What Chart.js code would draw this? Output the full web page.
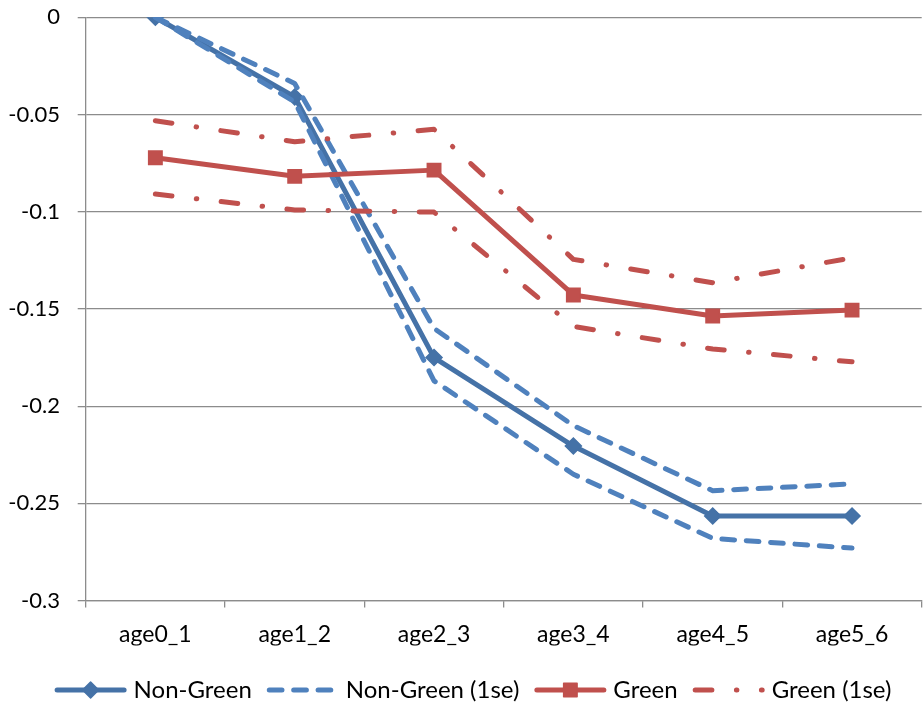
<!DOCTYPE html>
<html>
<head>
<meta charset="utf-8">
<script src="https://cdn.jsdelivr.net/npm/chart.js@4/dist/chart.umd.min.js"></script>
<style>
  html, body { margin: 0; padding: 0; background: #ffffff; }
  #wrap { width: 923px; height: 704px; position: relative; }
  canvas { display: block; }
</style>
</head>
<body>
<div id="wrap"><canvas id="c" width="923" height="704"></canvas></div>
<script>
// ---- data ----
const categories = ['age0_1', 'age1_2', 'age2_3', 'age3_4', 'age4_5', 'age5_6'];
const nonGreen      = [0, -0.041, -0.175, -0.2205, -0.2565, -0.2565];
const nonGreenUpper = [0, -0.034, -0.160, -0.210, -0.2435, -0.240];
const nonGreenLower = [0, -0.0435, -0.187, -0.235, -0.268, -0.273];
const green         = [-0.0722, -0.0818, -0.0786, -0.1428, -0.1536, -0.1506];
const greenUpper    = [-0.0532, -0.064, -0.0576, -0.1245, -0.1365, -0.1237];
const greenLower    = [-0.0909, -0.0991, -0.1002, -0.159, -0.1706, -0.1772];
const yTickValues   = [0, -0.05, -0.1, -0.15, -0.2, -0.25, -0.3];
const yTickLabels   = ['0', '-0.05', '-0.1', '-0.15', '-0.2', '-0.25', '-0.3'];
const legendLabels  = ['Non-Green', 'Non-Green (1se)', 'Green', 'Green (1se)'];

// ---- styles ----
const BLUE_DARK = '#4572A7';
const BLUE = '#4F81BD';
const RED = '#C0504D';
const GRID = '#8c8c8c';
const FONT = 'Lato';
const DASH_BLUE = [12.7, 11.7];
const DASH_RED = [16.7, 24.5, 0.5, 24.5];

function lineDs(label, data, color, opts) {
  return Object.assign({
    label: label,
    data: data,
    borderColor: color,
    backgroundColor: color,
    pointBackgroundColor: color,
    pointBorderColor: color,
    borderWidth: 5,
    borderCapStyle: 'round',
    borderJoinStyle: 'round',
    tension: 0,
    fill: false,
    pointRadius: 0,
    pointHoverRadius: 0
  }, opts);
}

const datasets = [
  lineDs('Non-Green', nonGreen, BLUE_DARK, { order: 6, pointStyle: 'rectRot', pointRadius: 8, pointBorderWidth: 1.5 }),
  lineDs('Non-Green (1se)', nonGreenUpper, BLUE, { order: 5, borderDash: DASH_BLUE }),
  lineDs('Non-Green (1se) lower', nonGreenLower, BLUE, { order: 4, borderDash: DASH_BLUE }),
  lineDs('Green', green, RED, { order: 3, pointStyle: 'rect', pointRadius: 9.5, pointBorderWidth: 1.5 }),
  lineDs('Green (1se)', greenUpper, RED, { order: 2, borderDash: DASH_RED }),
  lineDs('Green (1se) lower', greenLower, RED, { order: 1, borderDash: DASH_RED })
];

// legend entries map to dataset indices
const legendMap = [0, 1, 3, 4];

const excelLegend = {
  id: 'excelLegend',
  afterDraw(chart, args, opts) {
    const ctx = chart.ctx;
    ctx.save();
    ctx.font = opts.fontSize + 'px ' + FONT;
    ctx.textBaseline = 'middle';
    ctx.textAlign = 'left';
    const sampleW = opts.sampleWidth, gapText = opts.gapText, gapItem = opts.gapItem;
    const widths = legendLabels.map(t => ctx.measureText(t).width);
    let total = 0;
    widths.forEach((w, i) => { total += sampleW + gapText + w + (i < widths.length - 1 ? gapItem : 0); });
    let x = opts.centerX - total / 2;
    const y = opts.y;
    legendLabels.forEach((text, i) => {
      const ds = chart.data.datasets[legendMap[i]];
      const lw = ds.borderWidth;
      ctx.save();
      ctx.strokeStyle = ds.borderColor;
      ctx.lineWidth = lw;
      ctx.lineCap = 'round';
      ctx.lineJoin = 'round';
      ctx.setLineDash(ds.borderDash || []);
      ctx.beginPath();
      ctx.moveTo(x + lw / 2, y);
      ctx.lineTo(x + sampleW - lw / 2, y);
      ctx.stroke();
      ctx.setLineDash([]);
      const cx = x + sampleW / 2;
      if (ds.pointStyle === 'rectRot') {
        const r = ds.pointRadius;
        ctx.fillStyle = ds.borderColor;
        ctx.lineWidth = ds.pointBorderWidth;
        ctx.beginPath();
        ctx.moveTo(cx - r, y); ctx.lineTo(cx, y - r); ctx.lineTo(cx + r, y); ctx.lineTo(cx, y + r);
        ctx.closePath();
        ctx.fill(); ctx.stroke();
      } else if (ds.pointStyle === 'rect') {
        const h = ds.pointRadius * Math.SQRT1_2;
        ctx.fillStyle = ds.borderColor;
        ctx.lineWidth = ds.pointBorderWidth;
        ctx.beginPath();
        ctx.rect(cx - h, y - h, 2 * h, 2 * h);
        ctx.fill(); ctx.stroke();
      }
      ctx.restore();
      ctx.fillStyle = '#000000';
      ctx.fillText(text, x + sampleW + gapText, y);
      x += sampleW + gapText + widths[i] + gapItem;
    });
    ctx.restore();
  }
};

new Chart(document.getElementById('c'), {
  type: 'line',
  data: { labels: categories, datasets: datasets },
  plugins: [excelLegend],
  options: {
    responsive: false,
    animation: false,
    devicePixelRatio: 1,
    events: [],
    layout: { autoPadding: false, padding: { top: 17.3, right: 1.3, bottom: 58.4, left: 0 } },
    plugins: {
      legend: { display: false },
      tooltip: { enabled: false },
      excelLegend: { fontSize: 24, sampleWidth: 72, gapText: 7, gapItem: 15, centerX: 473, y: 690 }
    },
    scales: {
      x: {
        type: 'category',
        offset: true,
        grid: { offset: true, drawOnChartArea: false, drawTicks: true, tickLength: 7, color: GRID, lineWidth: 1.3 },
        border: { display: true, color: GRID, width: 1.3 },
        ticks: { color: '#000000', font: { family: FONT, size: 23, lineHeight: 1.2 }, padding: 13.6, maxRotation: 0, autoSkip: false },
        afterFit(scale) { scale.height = 45; scale.paddingLeft = 0; scale.paddingRight = 0; }
      },
      y: {
        type: 'linear',
        min: -0.3,
        max: 0,
        afterBuildTicks(scale) { scale.ticks = yTickValues.map(v => ({ value: v })); },
        grid: { drawOnChartArea: true, drawTicks: true, tickLength: 8, color: GRID, lineWidth: 1.3 },
        border: { display: true, color: GRID, width: 1.3 },
        ticks: {
          color: '#000000',
          font: { family: FONT, size: 22, lineHeight: 1.2 },
          padding: 17.7,
          callback(value, index) { return yTickLabels[index]; }
        },
        afterFit(scale) { scale.width = 85.7; scale.paddingTop = 0; scale.paddingBottom = 0; }
      }
    }
  }
});
</script>
</body>
</html>
